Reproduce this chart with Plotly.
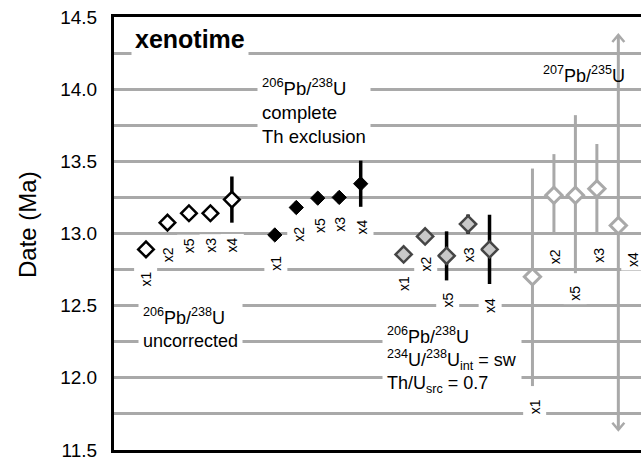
import plotly.graph_objects as go

# ---------------- data ----------------
spot_labels = ["x1", "x2", "x5", "x3", "x4"]

uncorr_date = [12.89, 13.075, 13.14, 13.14, 13.235]
uncorr_err = [0.04, 0.04, 0.04, 0.04, 0.16]

thexcl_date = [12.99, 13.18, 13.245, 13.25, 13.345]
thexcl_err = [0.04, 0.04, 0.04, 0.04, 0.16]

sw_date = [12.855, 12.98, 12.845, 13.065, 12.89]
sw_err = [0.04, 0.04, 0.17, 0.067, 0.24]

pb207_date = [12.70, 13.265, 13.265, 13.31, 13.055]
pb207_err_plus = [0.75, 0.285, 0.555, 0.31, 1.32]   # last one off-scale (arrow)
pb207_err_minus = [0.757, 0.265, 0.54, 0.305, 1.415]
pb207_offscale = [False, False, False, False, True]

y_ticks = [11.5, 12.0, 12.5, 13.0, 13.5, 14.0, 14.5]

# ---------------- layout helpers (pixel -> axis units) ----------------
W, H = 641, 460
L, T, B = 114, 17, 10
X0PX, XSTEP = 146.0, 21.47
x_range = [(L - X0PX) / XSTEP, (W - X0PX) / XSTEP]
y_range = [11.5, 14.5]
YPX = (H - T - B) / (y_range[1] - y_range[0])


def px2x(px):
    return (px - X0PX) / XSTEP


def py2y(py):
    return y_range[1] - (py - T) / YPX


FONT = "Liberation Sans, Arial, sans-serif"
GRID = "#a9a9a9"

groups = [
    dict(y=uncorr_date, ep=uncorr_err, em=uncorr_err, fill="white", line="black", lw=2.5,
         size=12, ecol="black", eth=3.5),
    dict(y=thexcl_date, ep=thexcl_err, em=thexcl_err, fill="black", line="black", lw=1,
         size=11, ecol="black", eth=3.5),
    dict(y=sw_date, ep=sw_err, em=sw_err, fill="#c8c8c8", line="#454545", lw=2.5,
         size=12.5, ecol="black", eth=3.5),
    dict(y=pb207_date, ep=pb207_err_plus, em=pb207_err_minus, fill="white", line=GRID, lw=3,
         size=12.5, ecol=GRID, eth=3),
]

# label offsets in pixels (dx, dy) for each spot label
label_offsets = [
    [(0, -30), (0, -32), (0, -32), (1, -32), (0, -45)],
    [(1, -28), (2, -27), (2, -27), (1, -27), (1, -43)],
    [(1, -29), (1, -28), (1, -44), (1, -31), (1, -56)],
    [(2, -130), (1, -61), (0, -98), (2, -66), (14, -34)],
]

fig = go.Figure()
annotations = []

for g, grp in enumerate(groups):
    xs = [g * 6 + j for j in range(len(spot_labels))]
    fig.add_trace(go.Scatter(
        x=xs, y=grp["y"], mode="markers",
        marker=dict(symbol="diamond", size=grp["size"], color=grp["fill"],
                    line=dict(color=grp["line"], width=grp["lw"])),
        error_y=dict(type="data", symmetric=False, array=grp["ep"], arrayminus=grp["em"],
                     color=grp["ecol"], thickness=grp["eth"], width=0),
        showlegend=False, hoverinfo="skip"))
    for j, lab in enumerate(spot_labels):
        dx, dy = label_offsets[g][j]
        annotations.append(dict(
            x=xs[j], y=grp["y"][j], xref="x", yref="y", text=lab, showarrow=False,
            textangle=-90, xshift=dx, yshift=dy, bgcolor="white", borderpad=3,
            font=dict(family=FONT, size=14, color="black")))

# arrowheads for off-scale error bars
ax_x, ax_y = [], []
hw, hh = 6 / XSTEP, 7 / YPX
for j, off in enumerate(pb207_offscale):
    if off:
        xc = 3 * 6 + j
        top = pb207_date[j] + pb207_err_plus[j]
        bot = pb207_date[j] - pb207_err_minus[j]
        ax_x += [xc - hw, xc, xc + hw, None, xc - hw, xc, xc + hw, None]
        ax_y += [top - hh, top, top - hh, None, bot + hh, bot, bot + hh, None]
fig.add_trace(go.Scatter(x=ax_x, y=ax_y, mode="lines", line=dict(color=GRID, width=2.5),
                         showlegend=False, hoverinfo="skip"))

# text blocks
annotations += [
    dict(x=px2x(131), y=py2y(39), xanchor="left", yanchor="middle", text="<b>xenotime</b>",
         showarrow=False, bgcolor="white", borderpad=3, align="left",
         font=dict(family=FONT, size=25, color="black")),
    dict(x=px2x(257), y=py2y(111), xanchor="left", yanchor="middle",
         text="<sup>206</sup>Pb/<sup>238</sup>U<br>complete<br>Th exclusion",
         showarrow=False, bgcolor="white", borderpad=4, align="left",
         font=dict(family=FONT, size=18.5, color="black")),
    dict(x=px2x(541), y=py2y(74), xanchor="left", yanchor="middle",
         text="<sup>207</sup>Pb/<sup>235</sup>U",
         showarrow=False, align="left",
         font=dict(family=FONT, size=18, color="black")),
    dict(x=px2x(138), y=py2y(328), xanchor="left", yanchor="middle",
         text="<sup>206</sup>Pb/<sup>238</sup>U<br>uncorrected",
         showarrow=False, bgcolor="white", borderpad=4, align="left",
         font=dict(family=FONT, size=18, color="black")),
    dict(x=px2x(382), y=py2y(360), xanchor="left", yanchor="middle",
         text="<sup>206</sup>Pb/<sup>238</sup>U<br><sup>234</sup>U/<sup>238</sup>U<sub>int</sub> = sw"
              "<br>Th/U<sub>src</sub> = 0.7",
         showarrow=False, bgcolor="white", borderpad=4, align="left",
         font=dict(family=FONT, size=18, color="black")),
    # y-axis title
    dict(x=(27 - L) / (W - L), y=(H - B - 225) / (H - T - B), xref="paper", yref="paper",
         xanchor="center", yanchor="middle", text="Date (Ma)", textangle=-90,
         showarrow=False, font=dict(family=FONT, size=24, color="black")),
]

fig.update_layout(
    width=W, height=H,
    margin=dict(l=L, r=0, t=T, b=B, pad=0),
    paper_bgcolor="white", plot_bgcolor="white",
    font=dict(family=FONT, color="black"),
    annotations=annotations,
    xaxis=dict(range=x_range, showgrid=False, zeroline=False, showticklabels=False,
               ticks="", showline=True, mirror=True, linecolor="black", linewidth=3),
    yaxis=dict(range=y_range, tickvals=y_ticks, ticktext=[f"{v:.1f}" for v in y_ticks],
               showgrid=True, gridcolor=GRID, gridwidth=2.5,
               minor=dict(dtick=0.25, tick0=11.5, showgrid=True, gridcolor=GRID, gridwidth=2.5),
               zeroline=False, showline=True, mirror=False, linecolor="black", linewidth=3,
               ticks="", ticklabelstandoff=10, ticklabeloverflow="allow",
               tickfont=dict(family=FONT, size=19, color="black")),
)

fig.write_html("out.html")
